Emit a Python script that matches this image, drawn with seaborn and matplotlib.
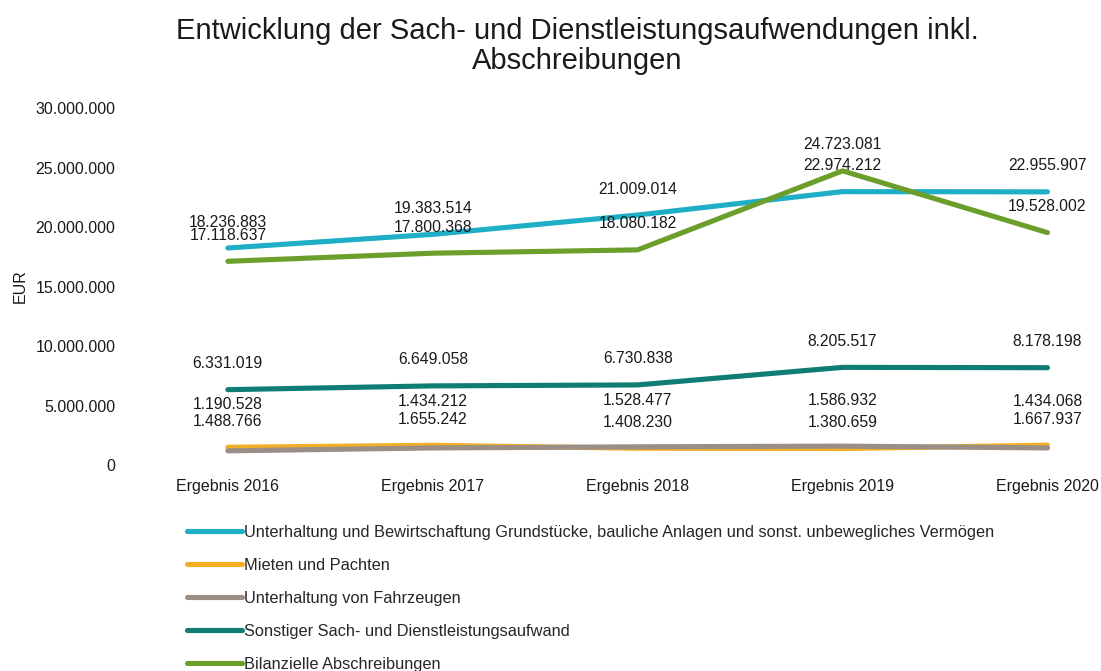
import matplotlib
matplotlib.use("Agg")
import matplotlib.pyplot as plt
import seaborn as sns
import pandas as pd

# data
years = ["Ergebnis 2016", "Ergebnis 2017", "Ergebnis 2018", "Ergebnis 2019", "Ergebnis 2020"]
series_names = [
    "Unterhaltung und Bewirtschaftung Grundstücke, bauliche Anlagen und sonst. unbewegliches Vermögen",
    "Mieten und Pachten",
    "Unterhaltung von Fahrzeugen",
    "Sonstiger Sach- und Dienstleistungsaufwand",
    "Bilanzielle Abschreibungen",
]
unterhaltung_grund = [18236883, 19383514, 21009014, 22974212, 22955907]
mieten = [1488766, 1655242, 1408230, 1380659, 1667937]
fahrzeuge = [1190528, 1434212, 1528477, 1586932, 1434068]
sonstiger = [6331019, 6649058, 6730838, 8205517, 8178198]
abschreibungen = [17118637, 17800368, 18080182, 24723081, 19528002]

values = [unterhaltung_grund, mieten, fahrzeuge, sonstiger, abschreibungen]
colors = ["#1eaec6", "#f2ae25", "#9a8e86", "#0f7d74", "#6b9e2b"]
label_offsets = [26, 26, 46, 26, 26]  # pixels above the point

df = pd.DataFrame({
    "Jahr": years * len(series_names),
    "Serie": [s for s in series_names for _ in years],
    "EUR": [v for vals in values for v in vals],
})

sns.set_style("white")
plt.rcParams["font.family"] = ["Liberation Sans", "DejaVu Sans"]
txt = "#1a1a1a"

fig = plt.figure(figsize=(11.01, 6.71), dpi=100)
ax = fig.add_axes([0.118, 0.307, 0.876, 0.532])

sns.lineplot(data=df, x="Jahr", y="EUR", hue="Serie", palette=colors,
             linewidth=3.7, ax=ax, legend=False, sort=False)

# data labels
for vals, off in zip(values, label_offsets):
    for i, v in enumerate(vals):
        ax.annotate(f"{v:,}".replace(",", "."), (i, v), xytext=(0, off),
                    textcoords="offset pixels", ha="center", va="center",
                    fontsize=11.3, color=txt)

ax.set_xlim(-0.478, 4.229)
ax.set_ylim(0, 30000000)
ax.set_yticks(range(0, 30000001, 5000000))
ax.set_yticklabels([f"{t:,}".replace(",", ".") for t in range(0, 30000001, 5000000)])
ax.tick_params(axis="both", labelsize=11.5, length=0, colors=txt)
ax.tick_params(axis="y", pad=10.5)
ax.tick_params(axis="x", pad=10)
ax.set_xlabel("")
ax.set_ylabel("EUR", fontsize=11.5, color=txt)
ax.yaxis.set_label_coords(-0.106, 0.5)
sns.despine(ax=ax, left=True, bottom=True)

fig.text(0.524, 0.931, "Entwicklung der Sach- und Dienstleistungsaufwendungen inkl.\nAbschreibungen",
         ha="center", va="center", fontsize=21, color=txt, linespacing=1.1)

handles = [plt.Line2D([], [], color=c, linewidth=3.7) for c in colors]
fig.legend(handles, series_names, loc="upper left", bbox_to_anchor=(0.170, 0.218),
           frameon=False, fontsize=11.75, handlelength=3.35, handletextpad=0.12,
           labelspacing=1.1, borderaxespad=0, borderpad=0)

fig.savefig("out.png", dpi=100)
